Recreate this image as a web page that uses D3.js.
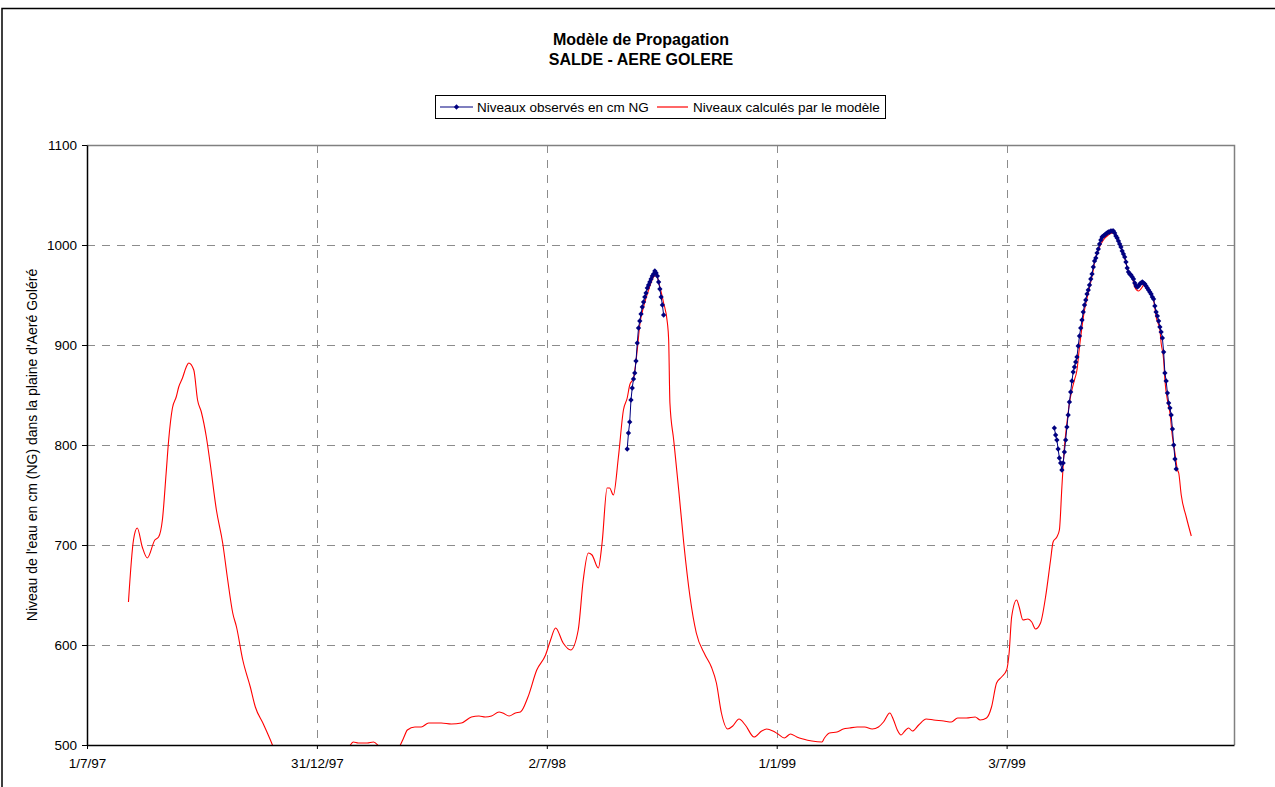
<!DOCTYPE html>
<html>
<head>
<meta charset="utf-8">
<script src="https://cdn.jsdelivr.net/npm/d3@7"></script>
<style>
  body { margin: 0; background: #fff; }
  svg { display: block; font-family: "Liberation Sans", Arial, sans-serif; }
</style>
</head>
<body>
<svg id="chart" width="1275" height="787"></svg>
<script>
// ---- Texts ----
const chartTitle = ["Modèle de Propagation", "SALDE - AERE GOLERE"];
const seriesNames = ["Niveaux observés en cm NG", "Niveaux calculés par le modèle"];
const yAxisTitle = "Niveau de l'eau en cm (NG) dans la plaine d'Aeré Goléré";

// ---- Axes ----
const xStart = "1997-07-01";
const xEnd = "1999-12-31";
const xTickLabels = ["1/7/97", "31/12/97", "2/7/98", "1/1/99", "3/7/99"];
const yTicks = [500, 600, 700, 800, 900, 1000, 1100];

// ---- Model output: day number counted from 1 July 1997, level in cm NG ----
const modelDay = [33,37,40,44,48,54,57,60,63,65,68,71,73,76,79,81,85,88,91,95,98,103,108,112,116,119,124,130,134,140,146,148,155,165,180,195,205,209,212,216,223,228,233,240,246,249,252,255,261,266,272,282,290,298,306,312,317,322,328,331,336,341,345,351,358,365,369,373,379,385,391,395,399,402,407,410,414,416,419,423,427,430,432,435,438,440,443,447,451,453,456,459,462,463,464,467,471,475,480,485,492,497,501,505,510,514,519,524,531,537,541,546,550,555,560,565,570,577,585,587,591,597,602,607,613,619,625,630,634,639,642,645,648,651,654,657,662,668,674,682,688,693,700,707,711,716,720,724,728,732,734,736,740,742,745,749,752,755,759,763,767,769,772,774,776,778,780,782,784,786,788,790,792,794,797,799,801,802,805,809,813,816,819,823,826,828,832,834,837,840,841,845,849,851,854,855,857,858,860,862,864,866,868,869,871,875,879];
const modelLevel = [643,705,717,698,687,705,708,725,772,805,837,848,858,867,878,882,875,845,833,808,782,735,702,665,632,618,585,558,538,522,505,499,490,482,478,485,495,499,503,502,502,503,498,492,494,499,507,515,518,518,522,522,521,522,528,529,528,529,533,532,529,532,533,548,575,590,605,617,602,595,615,665,692,690,677,702,757,757,750,788,835,847,860,867,895,920,938,955,968,970,958,942,922,905,842,805,755,702,648,612,590,578,562,532,516,519,526,520,508,514,516,514,511,507,511,508,506,504,503,507,512,513,516,517,518,518,516,518,523,532,525,515,510,514,517,514,520,526,525,524,523,527,527,528,525,527,538,562,568,575,592,628,645,638,625,626,623,616,622,648,685,703,708,715,758,798,822,842,855,865,875,898,918,935,952,963,975,983,995,1005,1010,1012,1010,998,987,977,968,958,954,958,960,955,945,928,915,902,885,865,845,832,808,792,775,772,750,728,709];

// ---- Daily observed levels, cm NG ----
const obs1998Start = "1998-09-04";
const obs1998Level = [796,812,823,845,857,866,872,884,902,917,924,931,938,943,948,952,957,960,963,966,969,971,974,972,969,963,956,948,940,930];
const obs1999Start = "1999-08-10";
const obs1999Level = [817,810,805,796,787,782,775,782,793,805,
  818,830,843,853,864,873,878,883,888,899,
  909,917,925,933,940,945,951,955,960,966,
  971,978,984,987,992,996,1001,1005,1008,1009,
  1010,1011,1012,1013,1013,1014,1014,1014,1012,1009,
  1007,1004,1001,998,994,991,988,983,977,973,
  971,970,968,966,962,959,958,959,961,962,
  963,962,961,959,957,955,953,951,948,946,
  939,933,929,924,918,913,907,893,872,864,
  852,842,837,830,816,800,786,776];

// ---- Layout ----
const plot = { left: 87, top: 145, right: 1234, bottom: 745 };
const colObs = "#000080", colModel = "#ff0000";

const parseIso = d3.utcParse("%Y-%m-%d");
const parseTick = d3.utcParse("%d/%m/%y");
const origin = parseIso(xStart);

const x = d3.scaleUtc().domain([origin, parseIso(xEnd)]).range([plot.left, plot.right]);
const y = d3.scaleLinear().domain([yTicks[0], yTicks[yTicks.length - 1]]).range([plot.bottom, plot.top]);

const tickDates = xTickLabels.map(parseTick);
const fmtTick = d => `${d.getUTCDate()}/${d.getUTCMonth() + 1}/${String(d.getUTCFullYear()).slice(2)}`;

const modelData = modelDay.map((d, i) => ({ date: d3.utcDay.offset(origin, d), v: modelLevel[i] }));
const dailySeries = (start, levels) => levels.map((v, i) => ({ date: d3.utcDay.offset(parseIso(start), i), v }));
const obsGroups = [dailySeries(obs1998Start, obs1998Level), dailySeries(obs1999Start, obs1999Level)];

const svg = d3.select("#chart");

// outer chart frame
svg.append("rect")
  .attr("x", 2).attr("y", 8.5).attr("width", 1320).attr("height", 900)
  .attr("fill", "#fff").attr("stroke", "#000").attr("stroke-width", 1.5);

// titles
svg.append("g").selectAll("text").data(chartTitle).join("text")
  .attr("x", 641).attr("y", (d, i) => 45 + i * 20)
  .attr("text-anchor", "middle")
  .attr("font-size", 16).attr("font-weight", "bold").attr("fill", "#000")
  .text(d => d);

// legend
const lg = svg.append("g");
lg.append("rect").attr("x", 435.5).attr("y", 95.5).attr("width", 450).attr("height", 23)
  .attr("fill", "#fff").attr("stroke", "#000").attr("stroke-width", 1);
const legendItems = [
  { name: seriesNames[0], color: colObs, x0: 440, x1: 473, tx: 477, marker: true },
  { name: seriesNames[1], color: colModel, x0: 657, x1: 688, tx: 693, marker: false }
];
legendItems.forEach(it => {
  lg.append("line").attr("x1", it.x0).attr("x2", it.x1).attr("y1", 107).attr("y2", 107)
    .attr("stroke", it.color).attr("stroke-width", 1.2);
  if (it.marker) {
    lg.append("path").attr("d", d3.symbol(d3.symbolSquare, 14)())
      .attr("transform", `translate(${(it.x0 + it.x1) / 2},107) rotate(45)`)
      .attr("fill", it.color);
  }
  lg.append("text").attr("x", it.tx).attr("y", 112).attr("font-size", 13.5).attr("fill", "#000")
    .text(it.name);
});

// gridlines
const grid = svg.append("g").attr("stroke", "#8c8c8c").attr("stroke-width", 1).attr("stroke-dasharray", "8,7");
grid.selectAll("line.h").data(yTicks.slice(1, -1)).join("line")
  .attr("x1", plot.left).attr("x2", plot.right)
  .attr("y1", d => Math.round(y(d)) + 0.5).attr("y2", d => Math.round(y(d)) + 0.5);
grid.selectAll("line.v").data(tickDates.slice(1)).join("line")
  .attr("x1", d => Math.round(x(d)) + 0.5).attr("x2", d => Math.round(x(d)) + 0.5)
  .attr("y1", plot.top).attr("y2", plot.bottom);

// plot area border (top and right)
svg.append("path")
  .attr("d", `M${plot.left},${plot.top + 0.5}H${plot.right + 0.5}V${plot.bottom}`)
  .attr("fill", "none").attr("stroke", "#808080").attr("stroke-width", 1.5);

// clip
svg.append("clipPath").attr("id", "plotClip").append("rect")
  .attr("x", plot.left).attr("y", plot.top)
  .attr("width", plot.right - plot.left).attr("height", plot.bottom - plot.top);

const line = d3.line().x(d => x(d.date)).y(d => y(d.v));
const plotG = svg.append("g").attr("clip-path", "url(#plotClip)");

// model line
plotG.append("path").datum(modelData)
  .attr("d", line.curve(d3.curveMonotoneX))
  .attr("fill", "none").attr("stroke", colModel).attr("stroke-width", 1.1);

// observed lines with diamond markers
const obsLine = d3.line().x(d => x(d.date)).y(d => y(d.v));
obsGroups.forEach(g => {
  plotG.append("path").datum(g).attr("d", obsLine)
    .attr("fill", "none").attr("stroke", colObs).attr("stroke-width", 1);
  plotG.append("g").selectAll("path").data(g).join("path")
    .attr("d", d3.symbol(d3.symbolSquare, 14)())
    .attr("transform", d => `translate(${x(d.date)},${y(d.v)}) rotate(45)`)
    .attr("fill", colObs);
});

// axes
const yAxis = svg.append("g").attr("transform", `translate(${plot.left},0)`)
  .call(d3.axisLeft(y).tickValues(yTicks).tickSize(5).tickSizeOuter(0).tickPadding(5).tickFormat(d3.format("d")));
const xAxis = svg.append("g").attr("transform", `translate(0,${plot.bottom})`)
  .call(d3.axisBottom(x).tickValues(tickDates).tickSize(4).tickSizeOuter(0).tickPadding(9).tickFormat(fmtTick));
[yAxis, xAxis].forEach(a => {
  a.selectAll("path.domain").attr("stroke", "#000").attr("stroke-width", 1.5);
  a.selectAll(".tick line").attr("stroke", "#000");
  a.selectAll("text").attr("font-size", 13.5).attr("fill", "#000")
    .attr("font-family", "'Liberation Sans', Arial, sans-serif");
});

// y axis title
svg.append("text")
  .attr("transform", "translate(37,445) rotate(-90)")
  .attr("text-anchor", "middle").attr("font-size", 14).attr("fill", "#000")
  .text(yAxisTitle);
</script>
</body>
</html>
